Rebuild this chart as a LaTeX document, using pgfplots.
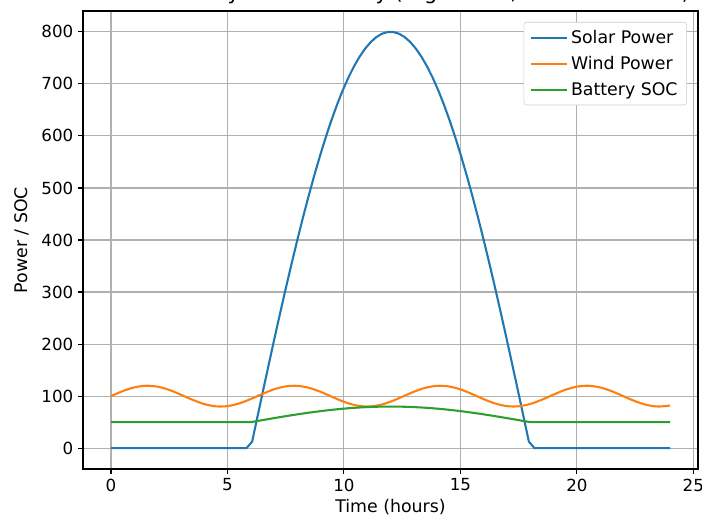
\documentclass[border=0pt]{standalone}
\usepackage{pgfplots}
\pgfplotsset{compat=1.18}
\usepackage{fontspec}
\setmainfont{DejaVu Sans}
\definecolor{c0}{HTML}{1F77B4}
\definecolor{c1}{HTML}{FF7F0E}
\definecolor{c2}{HTML}{2CA02C}
\definecolor{gridc}{HTML}{B0B0B0}
\begin{document}
\begin{tikzpicture}
\useasboundingbox (-59.76pt,-37.44pt) rectangle (445.68pt,337.68pt);
\begin{axis}[
  scale only axis,
  width=442.8pt, height=329.76pt,
  xmin=-1.2, xmax=25.2, ymin=-40, ymax=840,
  xtick={0,5,10,15,20,25}, ytick={0,100,...,800},
  grid=major,
  grid style={gridc, line width=0.8pt},
  axis line style={line width=0.8pt},
  tick style={black, line width=0.8pt},
  tick align=outside, tickwidth=3.5pt,
  xtick pos=bottom, ytick pos=left,
  /pgf/number format/assume math mode=true,
  ticklabel style={font=\fontsize{12}{14}\selectfont},
  xlabel={Time (hours)}, ylabel={Power / SOC},
  label style={font=\fontsize{12.5}{15}\selectfont},
  xlabel style={yshift=1pt},
  ylabel style={yshift=2pt},
  title={Renewable Hybrid Summary (High Solar, Moderate Wind)},
  title style={font=\fontsize{15}{18}\selectfont, overlay, at={(0.5,1)}, anchor=south, inner sep=0pt, yshift=-0.8pt},
  legend style={at={(0.982,0.976)}, anchor=north east, draw=gray!40, rounded corners=2pt,
    font=\fontsize{12.5}{15}\selectfont, row sep=3.9pt, inner xsep=4.5pt, inner ysep=3.5pt},
  legend cell align=left,
  legend image code/.code={\draw[#1, line width=1.5pt, sharp plot] (0pt,0pt) -- (26pt,0pt);},
]
\addplot[c0, line width=1.5pt] coordinates {
(0,0) (5.818,0) (6.061,12.69) (6.303,63.40) (6.545,113.85) (6.788,163.84) (7.030,213.17)
(7.273,261.65) (7.515,309.07) (7.758,355.25) (8.000,400.00) (8.242,443.14) (8.485,484.48)
(8.727,523.89) (8.970,561.18) (9.212,596.24) (9.455,628.90) (9.697,659.02) (9.939,686.50)
(10.182,711.10) (10.424,732.88) (10.667,751.75) (10.909,767.59) (11.152,780.34) (11.394,789.95)
(11.636,796.38) (11.879,799.60) (12.121,799.60) (12.364,796.38) (12.606,789.95) (12.848,780.34)
(13.091,767.59) (13.333,751.75) (13.576,732.88) (13.818,711.10) (14.061,686.50) (14.303,659.02)
(14.545,628.90) (14.788,596.24) (15.030,561.18) (15.273,523.89) (15.515,484.48) (15.758,443.14)
(16.000,400.00) (16.242,355.25) (16.485,309.07) (16.727,261.65) (16.970,213.17) (17.212,163.84)
(17.455,113.85) (17.697,63.40) (17.939,12.69) (18.182,0) (24,0)
};
\addlegendentry{Solar Power}
\addplot[c1, line width=1.5pt, smooth] coordinates {
(0,100.00) (0.5,109.59) (1,116.83) (1.5,119.95) (2,118.19) (2.5,111.97) (3,102.82) (3.5,92.98)
(4,84.86) (4.5,80.45) (5,80.82) (5.5,85.89) (6,94.41) (6.5,104.30) (7,113.14) (7.5,118.76)
(8,119.79) (8.5,115.97) (9,108.24) (9.5,98.50) (10,89.12) (10.5,82.41) (11,80.00) (11.5,82.49)
(12,89.27) (12.5,98.67) (13,108.40) (13.5,116.08) (14,119.81) (14.5,118.70) (15,113.01)
(15.5,104.13) (16,94.24) (16.5,85.76) (17,80.77) (17.5,80.49) (18,84.98) (18.5,93.15)
(19,103.00) (19.5,112.11) (20,118.26) (20.5,119.94) (21,116.73) (21.5,109.43) (22,99.82)
(22.5,90.26) (23,83.08) (23.5,80.02) (24,81.89)
};
\addlegendentry{Wind Power}
\addplot[c2, line width=1.5pt] coordinates {
(0,50) (5.818,50) (6.061,50.48) (6.303,52.38) (6.545,54.27) (6.788,56.14) (7.030,57.99)
(7.273,59.81) (7.515,61.59) (7.758,63.32) (8.000,65.00) (8.242,66.62) (8.485,68.17)
(8.727,69.65) (8.970,71.04) (9.212,72.36) (9.455,73.58) (9.697,74.71) (9.939,75.74)
(10.182,76.67) (10.424,77.48) (10.667,78.19) (10.909,78.78) (11.152,79.26) (11.394,79.62)
(11.636,79.86) (11.879,79.99) (12.121,79.99) (12.364,79.86) (12.606,79.62) (12.848,79.26)
(13.091,78.78) (13.333,78.19) (13.576,77.48) (13.818,76.67) (14.061,75.74) (14.303,74.71)
(14.545,73.58) (14.788,72.36) (15.030,71.04) (15.273,69.65) (15.515,68.17) (15.758,66.62)
(16.000,65.00) (16.242,63.32) (16.485,61.59) (16.727,59.81) (16.970,57.99) (17.212,56.14)
(17.455,54.27) (17.697,52.38) (17.939,50.48) (18.182,50) (24,50)
};
\addlegendentry{Battery SOC}
\end{axis}
\end{tikzpicture}
\end{document}
